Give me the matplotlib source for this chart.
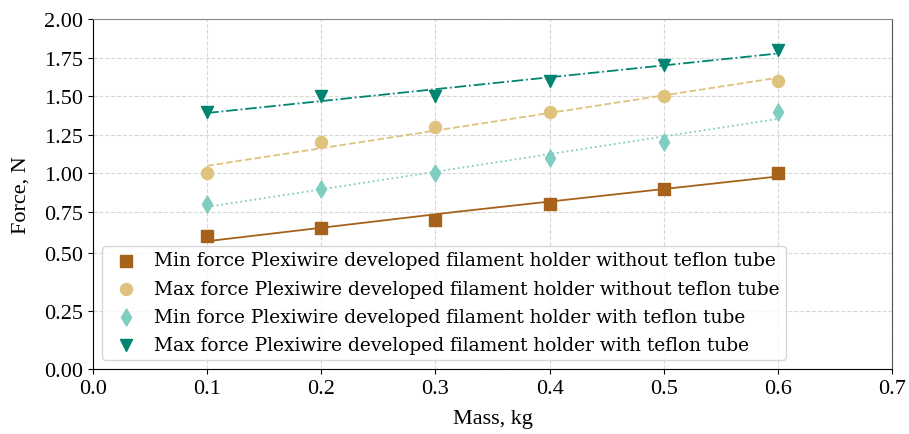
import numpy as np
import matplotlib
matplotlib.use("Agg")
import matplotlib.pyplot as plt

plt.rcParams['font.family'] = ['Liberation Serif', 'DejaVu Serif']

mass = [0.1, 0.2, 0.3, 0.4, 0.5, 0.6]
min_no_tube = [0.6, 0.65, 0.7, 0.8, 0.9, 1.0]
max_no_tube = [1.0, 1.2, 1.3, 1.4, 1.5, 1.6]
min_tube = [0.8, 0.9, 1.0, 1.1, 1.2, 1.4]
max_tube = [1.4, 1.5, 1.5, 1.6, 1.7, 1.8]

labels = ['Min force Plexiwire developed filament holder without teflon tube',
          'Max force Plexiwire developed filament holder without teflon tube',
          'Min force Plexiwire developed filament holder with teflon tube',
          'Max force Plexiwire developed filament holder with teflon tube']

series = [min_no_tube, max_no_tube, min_tube, max_tube]
colors = ['#a6611a', '#dfc27d', '#80cdc1', '#018571']
markers = ['s', 'o', 'd', 'v']
styles = ['-', '--', ':', '-.']

# y axis is stretched below ~0.6 in the original (piecewise linear scale)
y_knots = [0.0, 0.5, 0.75, 2.0]
y_pos = [0.0, 116.0, 157.3, 350.0]


def fwd(v):
    v = np.asarray(v, dtype=float)
    return np.where(v < 0, v * 232,
                    np.where(v > 2, 350 + (v - 2) * 154, np.interp(v, y_knots, y_pos)))


def inv(p):
    p = np.asarray(p, dtype=float)
    return np.where(p < 0, p / 232,
                    np.where(p > 350, 2 + (p - 350) / 154, np.interp(p, y_pos, y_knots)))


fig = plt.figure(figsize=(9.09, 4.35), dpi=100)
ax = fig.add_axes([0.1023, 0.1494, 0.879, 0.8046])
ax.set_yscale('function', functions=(fwd, inv))

x = np.array(mass)
xx = np.linspace(0.1, 0.6, 60)
for y, c, m, ls, lab in zip(series, colors, markers, styles, labels):
    ax.scatter(x, y, color=c, marker=m, s=75, label=lab, zorder=3)
    k, b = np.polyfit(x, y, 1)
    ax.plot(xx, k * xx + b, color=c, linestyle=ls, lw=1.3, zorder=2)

ax.set_xlim(0, 0.7)
ax.set_ylim(0, 2.0)
ax.set_xticks(np.arange(0, 0.71, 0.1))
ax.set_yticks(np.arange(0, 2.01, 0.25))
ax.set_xticklabels(['%.1f' % v for v in np.arange(0, 0.71, 0.1)])
ax.set_yticklabels(['%.2f' % v for v in np.arange(0, 2.01, 0.25)])
ax.minorticks_off()
ax.tick_params(labelsize=16)
ax.grid(True, linestyle='--', color='#d8d8d8', lw=0.8)
ax.set_axisbelow(True)
ax.spines['top'].set_color('#888888')
ax.spines['right'].set_color('#555555')
ax.set_xlabel('Mass, kg', fontsize=16, labelpad=8)
ax.set_ylabel('Force, N', fontsize=16, labelpad=10)

leg = ax.legend(loc='lower left', bbox_to_anchor=(0.0, 0.0),
                prop={'family': 'DejaVu Serif', 'size': 13.4},
                handletextpad=0.5, labelspacing=0.55, borderpad=0.3,
                borderaxespad=0.5, frameon=True)
leg.get_frame().set_edgecolor('#cccccc')

fig.savefig('out.png', dpi=100)
